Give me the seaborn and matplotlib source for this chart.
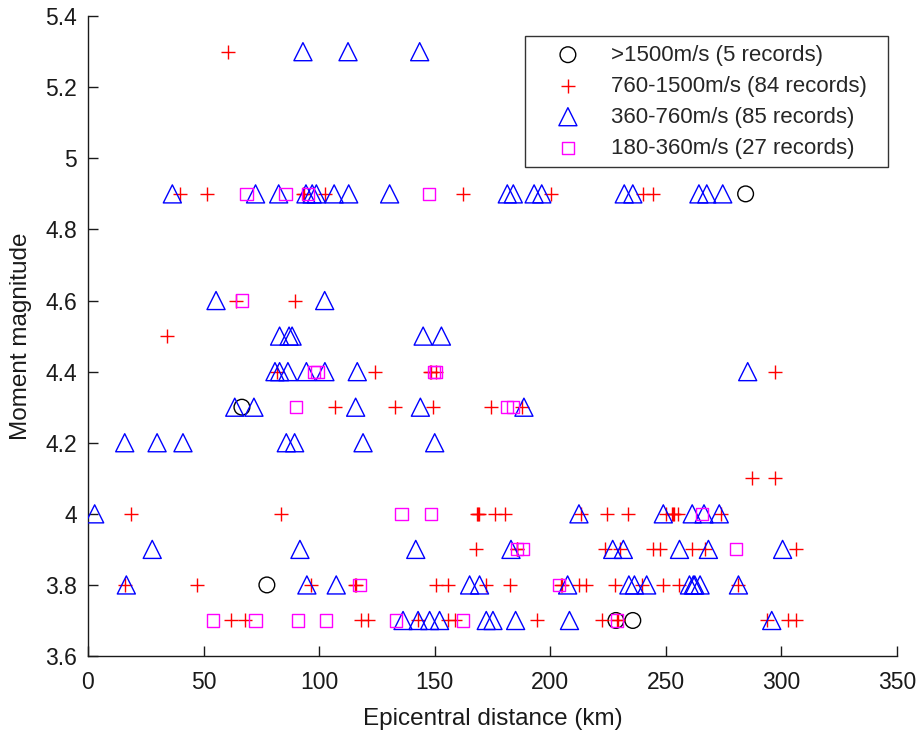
import matplotlib
matplotlib.use("Agg")
import matplotlib.pyplot as plt
import seaborn as sns
import pandas as pd
from matplotlib.ticker import FuncFormatter

# Records grouped by site class: (epicentral distance km, moment magnitude)
hard_rock_dist = [284.5, 66.6, 77.4, 228.4, 235.7]
hard_rock_mag = [4.9, 4.3, 3.8, 3.7, 3.7]

rock_dist = [60.5,
             39.7, 51.5, 93.0, 93.5, 102.4, 162.4, 200.3, 240.0, 244.5,
             64.0, 89.6,
             34.3,
             81.6, 124.2, 147.8, 148.5, 150.6, 297.0,
             106.7, 132.7, 149.3, 174.2, 187.6,
             287.1, 297.0,
             18.7, 83.6, 168.4, 168.8, 169.2, 175.9, 180.5, 213.3, 224.4, 233.5,
             249.9, 252.5, 253.0, 253.5, 255.4, 273.7,
             168.0, 185.5, 185.8, 223.7, 230.2, 244.6, 247.5, 261.2, 267.0, 306.3,
             15.9, 47.3, 96.3, 115.4, 116.0, 150.7, 155.7, 172.3, 182.6, 204.5,
             204.9, 212.4, 215.4, 228.0, 239.5, 248.9, 255.7, 281.4,
             61.7, 68.1, 118.2, 121.1, 142.8, 155.7, 158.6, 194.1, 222.2, 229.0,
             229.2, 293.6, 302.9, 306.1]
rock_mag = [5.3,
            4.9, 4.9, 4.9, 4.9, 4.9, 4.9, 4.9, 4.9, 4.9,
            4.6, 4.6,
            4.5,
            4.4, 4.4, 4.4, 4.4, 4.4, 4.4,
            4.3, 4.3, 4.3, 4.3, 4.3,
            4.1, 4.1,
            4.0, 4.0, 4.0, 4.0, 4.0, 4.0, 4.0, 4.0, 4.0, 4.0,
            4.0, 4.0, 4.0, 4.0, 4.0, 4.0,
            3.9, 3.9, 3.9, 3.9, 3.9, 3.9, 3.9, 3.9, 3.9, 3.9,
            3.8, 3.8, 3.8, 3.8, 3.8, 3.8, 3.8, 3.8, 3.8, 3.8,
            3.8, 3.8, 3.8, 3.8, 3.8, 3.8, 3.8, 3.8,
            3.7, 3.7, 3.7, 3.7, 3.7, 3.7, 3.7, 3.7, 3.7, 3.7,
            3.7, 3.7, 3.7, 3.7]

stiff_dist = [93.0, 112.5, 143.5,
              36.5, 72.5, 82.5, 94.3, 97.0, 98.8, 106.5, 112.8, 130.5, 181.4,
              184.0, 193.0, 196.3, 232.0, 235.7, 264.3, 267.7, 274.6,
              55.4, 102.4,
              82.9, 87.0, 88.3, 145.0, 152.9,
              80.9, 82.9, 86.5, 94.5, 102.5, 116.5, 285.4,
              63.5, 71.8, 115.8, 143.8, 188.6,
              15.9, 29.9, 41.1, 85.8, 89.4, 119.0, 150.0,
              2.9, 212.4, 248.9, 261.4, 266.5, 273.1,
              27.8, 91.7, 141.8, 183.0, 227.0, 231.6, 255.9, 268.4, 300.5,
              16.6, 94.7, 107.4, 165.1, 169.4, 207.5, 234.0, 236.4, 241.7,
              260.2, 261.9, 262.5, 264.8, 281.4,
              136.3, 142.8, 147.8, 152.1, 172.3, 175.2, 185.0, 208.3, 295.8]
stiff_mag = [5.3, 5.3, 5.3,
             4.9, 4.9, 4.9, 4.9, 4.9, 4.9, 4.9, 4.9, 4.9, 4.9,
             4.9, 4.9, 4.9, 4.9, 4.9, 4.9, 4.9, 4.9,
             4.6, 4.6,
             4.5, 4.5, 4.5, 4.5, 4.5,
             4.4, 4.4, 4.4, 4.4, 4.4, 4.4, 4.4,
             4.3, 4.3, 4.3, 4.3, 4.3,
             4.2, 4.2, 4.2, 4.2, 4.2, 4.2, 4.2,
             4.0, 4.0, 4.0, 4.0, 4.0, 4.0,
             3.9, 3.9, 3.9, 3.9, 3.9, 3.9, 3.9, 3.9, 3.9,
             3.8, 3.8, 3.8, 3.8, 3.8, 3.8, 3.8, 3.8, 3.8,
             3.8, 3.8, 3.8, 3.8, 3.8,
             3.7, 3.7, 3.7, 3.7, 3.7, 3.7, 3.7, 3.7, 3.7]

soil_dist = [68.6, 85.5, 95.2, 147.4,
             66.6,
             97.8, 99.3, 149.7, 150.5,
             90.1, 181.3, 184.0,
             135.6, 148.5, 265.5,
             185.6, 188.3, 280.4,
             117.5, 203.8,
             54.1, 72.5, 90.9, 103.1, 133.4, 162.2, 229.0]
soil_mag = [4.9, 4.9, 4.9, 4.9,
            4.6,
            4.4, 4.4, 4.4, 4.4,
            4.3, 4.3, 4.3,
            4.0, 4.0, 4.0,
            3.9, 3.9, 3.9,
            3.8, 3.8,
            3.7, 3.7, 3.7, 3.7, 3.7, 3.7, 3.7]

class_labels = [">1500m/s (5 records)", "760-1500m/s (84 records)",
                "360-760m/s (85 records)", "180-360m/s (27 records)"]
x_ticks = [0, 50, 100, 150, 200, 250, 300, 350]
y_ticks = [3.6, 3.8, 4.0, 4.2, 4.4, 4.6, 4.8, 5.0, 5.2, 5.4]

sns.set_theme(style="white")
plt.rcParams["font.family"] = ["Liberation Sans", "DejaVu Sans"]
plt.rcParams["font.size"] = 16

ink = "#1a1a1a"
fig = plt.figure(figsize=(9.24, 7.33), dpi=100)
ax = fig.add_axes([0.0952, 0.105, 0.8756, 0.873])

groups = [
    (hard_rock_dist, hard_rock_mag, "o", "black", 11.3, True),
    (rock_dist, rock_mag, "+", "red", 10.5, False),
    (stiff_dist, stiff_mag, "^", "blue", 13.0, True),
    (soil_dist, soil_mag, "s", "magenta", 8.8, True),
]
for (d, m, mk, col, ms, filled), lab in zip(groups, class_labels):
    df = pd.DataFrame({"dist": d, "mag": m})
    if filled:
        sns.scatterplot(data=df, x="dist", y="mag", marker=mk, s=ms ** 2,
                        facecolors="none", edgecolor=col, linewidth=1.0,
                        label=lab, ax=ax, zorder=3)
    else:
        sns.scatterplot(data=df, x="dist", y="mag", marker=mk, s=ms ** 2,
                        color=col, linewidth=1.0, label=lab, ax=ax, zorder=3)

ax.set_xlim(0, 350)
ax.set_ylim(3.6, 5.4)
ax.set_xticks(x_ticks)
ax.set_yticks(y_ticks)
ax.yaxis.set_major_formatter(FuncFormatter(lambda v, p: f"{v:g}"))
ax.tick_params(direction="in", length=7, width=1, labelsize=16.5,
               colors=ink, left=True, bottom=True)
ax.tick_params(axis="x", pad=11)
ax.tick_params(axis="y", pad=8)
for side in ("top", "right"):
    ax.spines[side].set_visible(False)
for side in ("left", "bottom"):
    ax.spines[side].set_color(ink)
    ax.spines[side].set_linewidth(1.0)

ax.set_xlabel("Epicentral distance (km)", fontsize=17.5, color=ink, labelpad=10)
ax.set_ylabel("Moment magnitude", fontsize=17.5, color=ink, labelpad=9)

# Legend box stretched to a fixed width in the upper right corner
leg = ax.legend(loc="upper left", bbox_to_anchor=(0.5402, 0.5, 0.4487, 0.4695),
                mode="expand", fontsize=16,
                frameon=True, fancybox=False, edgecolor="black",
                borderaxespad=0.0, borderpad=0.4, labelspacing=0.45,
                handletextpad=0.41, handlelength=3.06, scatterpoints=1)
leg.get_frame().set_linewidth(1.0)

fig.savefig("out.png", dpi=100)
